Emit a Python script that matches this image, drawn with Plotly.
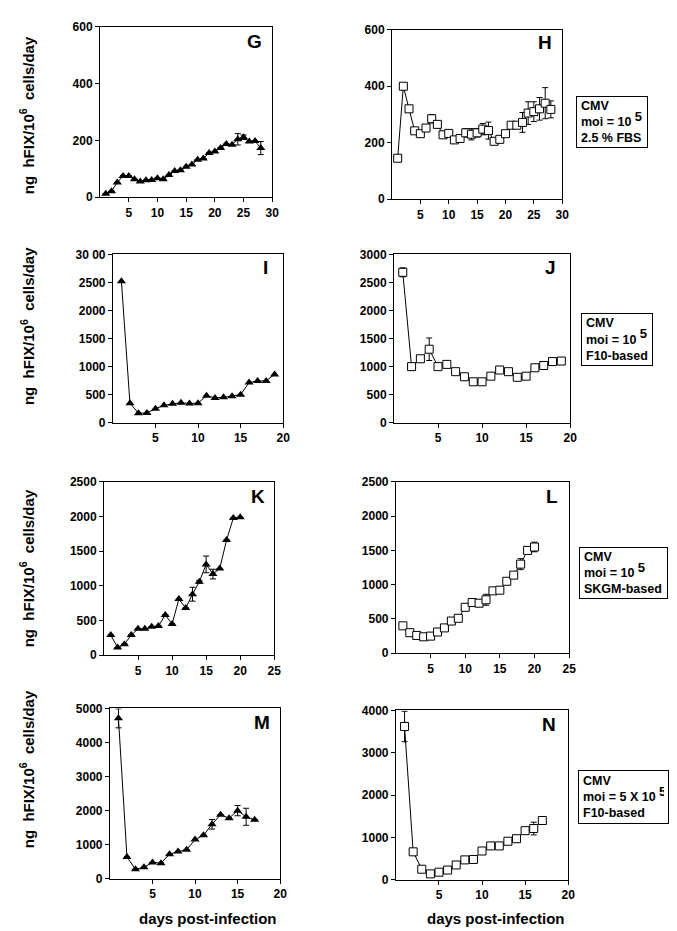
import plotly.graph_objects as go

W, H = 677, 931

# ---------------- data ----------------
days_G = list(range(1, 29))
vals_G = [12, 21, 52, 75, 75, 63, 55, 60, 61, 67, 63, 78, 92, 95, 107, 115, 132, 136,
          156, 161, 173, 187, 185, 204, 211, 196, 198, 173]
err_G = [0, 0, 0, 0, 0, 0, 0, 0, 0, 0, 0, 0, 0, 0, 0, 0, 0, 0,
         0, 0, 0, 0, 0, 20, 8, 0, 0, 23]

days_H = list(range(1, 29))
vals_H = [145, 400, 320, 242, 232, 252, 285, 265, 228, 233, 210, 215, 235, 230, 235, 248,
          243, 205, 212, 232, 262, 262, 272, 305, 310, 320, 340, 318]
err_H = [0, 0, 0, 0, 0, 0, 15, 0, 0, 0, 0, 0, 15, 20, 15, 20,
         30, 0, 0, 0, 0, 0, 35, 40, 35, 40, 55, 30]

days_I = list(range(1, 20))
vals_I = [2520, 350, 170, 175, 250, 310, 338, 355, 344, 350, 483, 443, 454, 472, 500,
          716, 745, 745, 862]

days_J = list(range(1, 20))
vals_J = [2680, 1000, 1140, 1310, 1000, 1040, 910, 820, 730, 730, 830, 940, 910, 810,
          830, 980, 1020, 1090, 1100]
err_J = [80, 0, 0, 200, 0, 0, 0, 0, 0, 0, 0, 0, 0, 0, 0, 0, 0, 0, 0]

days_K = list(range(1, 21))
vals_K = [290, 110, 160, 290, 380, 380, 410, 420, 580, 450, 810, 680, 880, 1060, 1310,
          1170, 1250, 1660, 1980, 1990]
err_K = [0, 0, 0, 0, 0, 0, 0, 0, 0, 0, 0, 0, 100, 20, 120, 70, 0, 0, 0, 0]

days_L = list(range(1, 21))
vals_L = [400, 300, 260, 240, 250, 310, 370, 470, 510, 670, 740, 730, 780, 910, 920,
          1050, 1140, 1300, 1500, 1550]
err_L = [0, 0, 0, 0, 0, 0, 0, 0, 0, 0, 0, 0, 80, 0, 0, 0, 0, 80, 50, 70]

days_M = list(range(1, 18))
vals_M = [4710, 640, 280, 340, 480, 460, 720, 800, 850, 1150, 1280, 1600, 1880, 1780,
          2000, 1820, 1730]
err_M = [280, 0, 0, 0, 0, 0, 0, 0, 0, 0, 0, 140, 0, 0, 150, 250, 0]

days_N = list(range(1, 18))
vals_N = [3620, 660, 250, 140, 180, 230, 350, 470, 480, 680, 800, 800, 910, 970, 1160,
          1210, 1400]
err_N = [360, 0, 0, 0, 0, 0, 0, 0, 0, 0, 0, 0, 0, 0, 0, 150, 0]

ticks_x30 = [5, 10, 15, 20, 25, 30]
ticks_x25 = [5, 10, 15, 20, 25]
ticks_x20 = [5, 10, 15, 20]
ticks_y600 = [0, 200, 400, 600]
ticks_y3000 = [0, 500, 1000, 1500, 2000, 2500, 3000]
labels_y3000_I = ["0", "500", "1000", "1500", "2000", "2500", "30 00"]
ticks_y2500 = [0, 500, 1000, 1500, 2000, 2500]
ticks_y5000 = [0, 1000, 2000, 3000, 4000, 5000]
ticks_y4000 = [0, 1000, 2000, 3000, 4000]

SUP5 = "<sup><span style='font-size:13px'>5</span></sup>"
legend_H = "CMV<br>moi = 10 " + SUP5 + "<br>2.5 % FBS"
legend_J = "CMV<br>moi = 10 " + SUP5 + "<br>F10-based"
legend_L = "CMV<br>moi = 10 " + SUP5 + "<br>SKGM-based"
legend_N = "CMV<br>moi = 5 X 10 " + SUP5 + "<br>F10-based"
ytitle = "ng  hFIX/10<sup>6</sup>  cells/day"
xtitle = "days post-infection"

# ---------------- layout helpers ----------------
FONT = "Liberation Sans, Arial, Helvetica, sans-serif"

def dx(l, r):
    return [l / W, r / W]

def dy(top, bottom):
    return [1 - bottom / H, 1 - top / H]

panels = [
    ("G", days_G, vals_G, err_G, "tri", (93, 267, 12, 185), [0, 30], ticks_x30, [0, 600], ticks_y600, None, (249, 27)),
    ("H", days_H, vals_H, err_H, "sq", (388, 560, 15, 187), [0, 30], ticks_x30, [0, 600], ticks_y600, None, (543, 28)),
    ("I", days_I, vals_I, None, "tri", (106, 278, 243, 414), [0, 20], ticks_x20, [0, 3000], ticks_y3000, labels_y3000_I, (260, 256)),
    ("J", days_J, vals_J, err_J, "sq", (390, 568, 243, 414), [0, 20], ticks_x20, [0, 3000], ticks_y3000, None, (548, 256)),
    ("K", days_K, vals_K, err_K, "tri", (97, 269, 474, 650), [0, 25], ticks_x25, [0, 2500], ticks_y2500, None, (253, 489)),
    ("L", days_L, vals_L, err_L, "sq", (392, 567, 474, 648), [0, 25], ticks_x25, [0, 2500], ticks_y2500, None, (550, 489)),
    ("M", days_M, vals_M, err_M, "tri", (103, 275, 704, 877), [0, 20], ticks_x20, [0, 5000], ticks_y5000, None, (257, 718)),
    ("N", days_N, vals_N, err_N, "sq", (392, 566, 706, 878), [0, 20], ticks_x20, [0, 4000], ticks_y4000, None, (547, 720)),
]

fig = go.Figure()
annotations = []
layout_axes = {}

for i, (name, d, v, e, mk, box, xr, xt, yr, yt, ytt, lpos) in enumerate(panels):
    n = i + 1
    xa = "x" if n == 1 else f"x{n}"
    ya = "y" if n == 1 else f"y{n}"
    if mk == "tri":
        marker = dict(symbol="triangle-up", size=8, color="black", line=dict(color="black", width=0))
    else:
        marker = dict(symbol="square", size=8, color="white", line=dict(color="black", width=1))
    err = None
    if e is not None:
        err = dict(type="data", array=e, visible=True, color="black", thickness=1, width=3)
    fig.add_trace(go.Scatter(
        x=d, y=v, mode="lines+markers", xaxis=xa, yaxis=ya,
        line=dict(color="black", width=1), marker=marker, error_y=err,
        cliponaxis=False, showlegend=False,
    ))
    l, r, t, b = box
    axis_common = dict(showline=True, linecolor="black", linewidth=1, mirror=True,
                       showgrid=False, zeroline=False, ticks="outside", ticklen=4,
                       tickcolor="black", tickwidth=1,
                       tickfont=dict(family=FONT, size=12, color="black", weight="bold"))
    xkey = "xaxis" if n == 1 else f"xaxis{n}"
    ykey = "yaxis" if n == 1 else f"yaxis{n}"
    layout_axes[xkey] = dict(domain=dx(l, r), range=xr, tickvals=xt, anchor=ya, **axis_common)
    yax = dict(domain=dy(t, b), range=yr, tickvals=yt, anchor=xa, **axis_common)
    if ytt is not None:
        yax["ticktext"] = ytt
    layout_axes[ykey] = yax
    annotations.append(dict(text=name, x=lpos[0] / W, y=1 - lpos[1] / H, xref="paper", yref="paper",
                            showarrow=False, xanchor="center", yanchor="middle",
                            font=dict(family=FONT, size=19, color="black", weight="bold")))

# y-axis titles
for cy in [102, 316, 562, 766]:
    annotations.append(dict(text=ytitle, x=19 / W, y=1 - cy / H, xref="paper", yref="paper",
                            showarrow=False, textangle=-90, xanchor="center", yanchor="middle",
                            font=dict(family=FONT, size=15, color="black", weight="bold")))

# x-axis titles
for cx in [202, 493]:
    annotations.append(dict(text=xtitle, x=cx / W, y=1 - 917 / H, xref="paper", yref="paper",
                            showarrow=False, xanchor="center", yanchor="middle",
                            font=dict(family=FONT, size=15, color="black", weight="bold")))

# condition boxes
for txt, (l, r, t, b) in [(legend_H, (574, 646, 82, 134)), (legend_J, (579, 651, 303, 356)),
                          (legend_L, (577, 666, 540, 592)), (legend_N, (576, 667, 767, 821))]:
    annotations.append(dict(text=txt, x=l / W, y=1 - t / H, xref="paper", yref="paper",
                            showarrow=False, xanchor="left", yanchor="top", align="left",
                            width=r - l - 10, height=b - t - 10,
                            bordercolor="black", borderwidth=1, borderpad=4, bgcolor="white",
                            font=dict(family=FONT, size=12.5, color="black", weight="bold")))

fig.update_layout(
    width=W, height=H, autosize=False,
    margin=dict(l=0, r=0, t=0, b=0),
    paper_bgcolor="white", plot_bgcolor="white",
    annotations=annotations,
    **layout_axes,
)

fig.write_html("out.html")
